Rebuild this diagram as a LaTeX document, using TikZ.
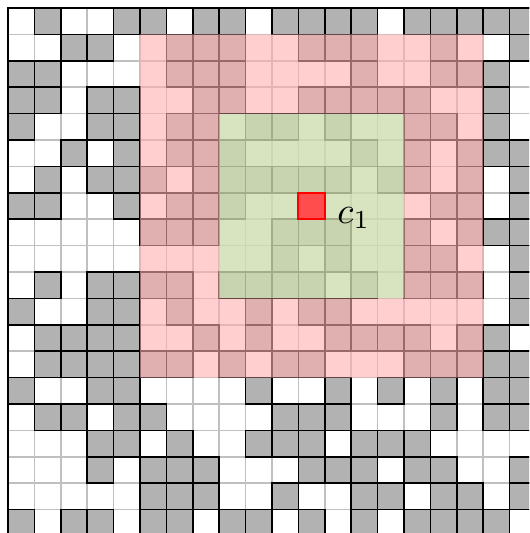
\documentclass[tikz,border=0pt]{standalone}
\definecolor{cellgray}{RGB}{178,178,178}
\definecolor{gridline}{RGB}{192,192,192}
\definecolor{pinkov}{RGB}{255,175,175}
\definecolor{greenov}{RGB}{206,222,176}
\tikzset{
  emptycell/.style={draw=gridline, fill=white, line width=0.4pt},
  fullcell/.style={draw=black, fill=cellgray, line width=0.4pt},
  ringfill/.style={fill=pinkov, fill opacity=0.6, even odd rule},
  corefill/.style={fill=greenov, fill opacity=0.79},
  centercell/.style={draw=red, fill=red!70, line width=0.5pt},
  frameline/.style={draw=black, line width=0.8pt}
}
\begin{document}
\begin{tikzpicture}[x=0.25cm,y=0.25cm]
\useasboundingbox (-0.303,0.303) rectangle (19.735,-19.886);
\clip (-0.303,0.303) rectangle (19.735,-19.886);
\foreach \j in {0,...,19}{
  \foreach \i in {0,...,19}{
    \path[emptycell] (\i,-\j) rectangle ++(1,-1);
  }
}
\foreach \row [count=\j from 0] in {
{0,1,0,0,1,1,0,1,1,0,1,1,1,1,0,1,1,1,1,1},
{0,0,1,1,0,0,1,1,1,0,0,1,1,1,0,0,1,0,0,1},
{1,1,0,0,0,0,1,1,1,0,0,0,0,1,0,0,1,1,1,0},
{1,1,0,1,1,0,0,1,1,0,0,1,1,1,1,1,0,0,1,0},
{1,0,0,1,1,0,1,1,0,1,1,0,1,0,0,1,1,0,1,0},
{0,0,1,0,1,0,1,1,1,0,0,0,0,1,0,1,0,1,1,1},
{0,1,0,1,1,1,0,1,1,1,1,1,1,0,1,1,0,1,0,1},
{1,1,0,0,1,0,1,1,1,0,0,0,0,0,0,0,1,1,0,1},
{0,0,0,0,0,1,1,1,0,0,1,1,1,0,0,1,0,1,1,1},
{0,0,0,0,0,0,0,0,0,0,1,0,1,0,0,1,1,0,0,1},
{0,1,0,1,1,1,1,0,1,1,1,1,0,1,0,1,1,1,0,1},
{1,0,0,1,1,0,1,0,0,1,0,1,1,0,0,0,0,0,0,1},
{0,1,1,1,1,0,0,1,0,1,0,0,1,1,1,1,0,1,1,0},
{0,1,1,1,1,1,1,0,1,0,1,1,0,0,0,1,1,1,1,1},
{1,0,0,1,1,0,0,0,0,1,0,0,1,0,1,0,1,0,1,1},
{0,1,1,0,1,1,0,0,0,0,1,1,1,0,0,0,1,0,1,1},
{0,0,0,1,1,0,1,0,0,1,1,1,0,1,1,1,0,0,0,0},
{0,0,0,1,0,1,1,1,0,0,0,1,1,1,0,1,1,0,0,1},
{0,0,0,0,0,1,1,1,0,0,1,0,0,1,1,0,1,1,0,1},
{1,0,1,1,0,1,1,0,1,1,0,1,0,1,0,1,1,1,1,0}}{
  \foreach \v [count=\i from 0] in \row {
    \ifnum\v=1
      \path[fullcell] (\i,-\j) rectangle ++(1,-1);
    \fi
  }
}
\path[ringfill] (5,-1) rectangle (18,-14) (8,-4) rectangle (15,-11);
\path[corefill] (8,-4) rectangle (15,-11);
\path[centercell] (11,-7) rectangle (12,-8);
\node (c1) at (13.1,-7.95) {$c_1$};
\path[frameline] (0,0) rectangle (20,-20);
\end{tikzpicture}
\end{document}
